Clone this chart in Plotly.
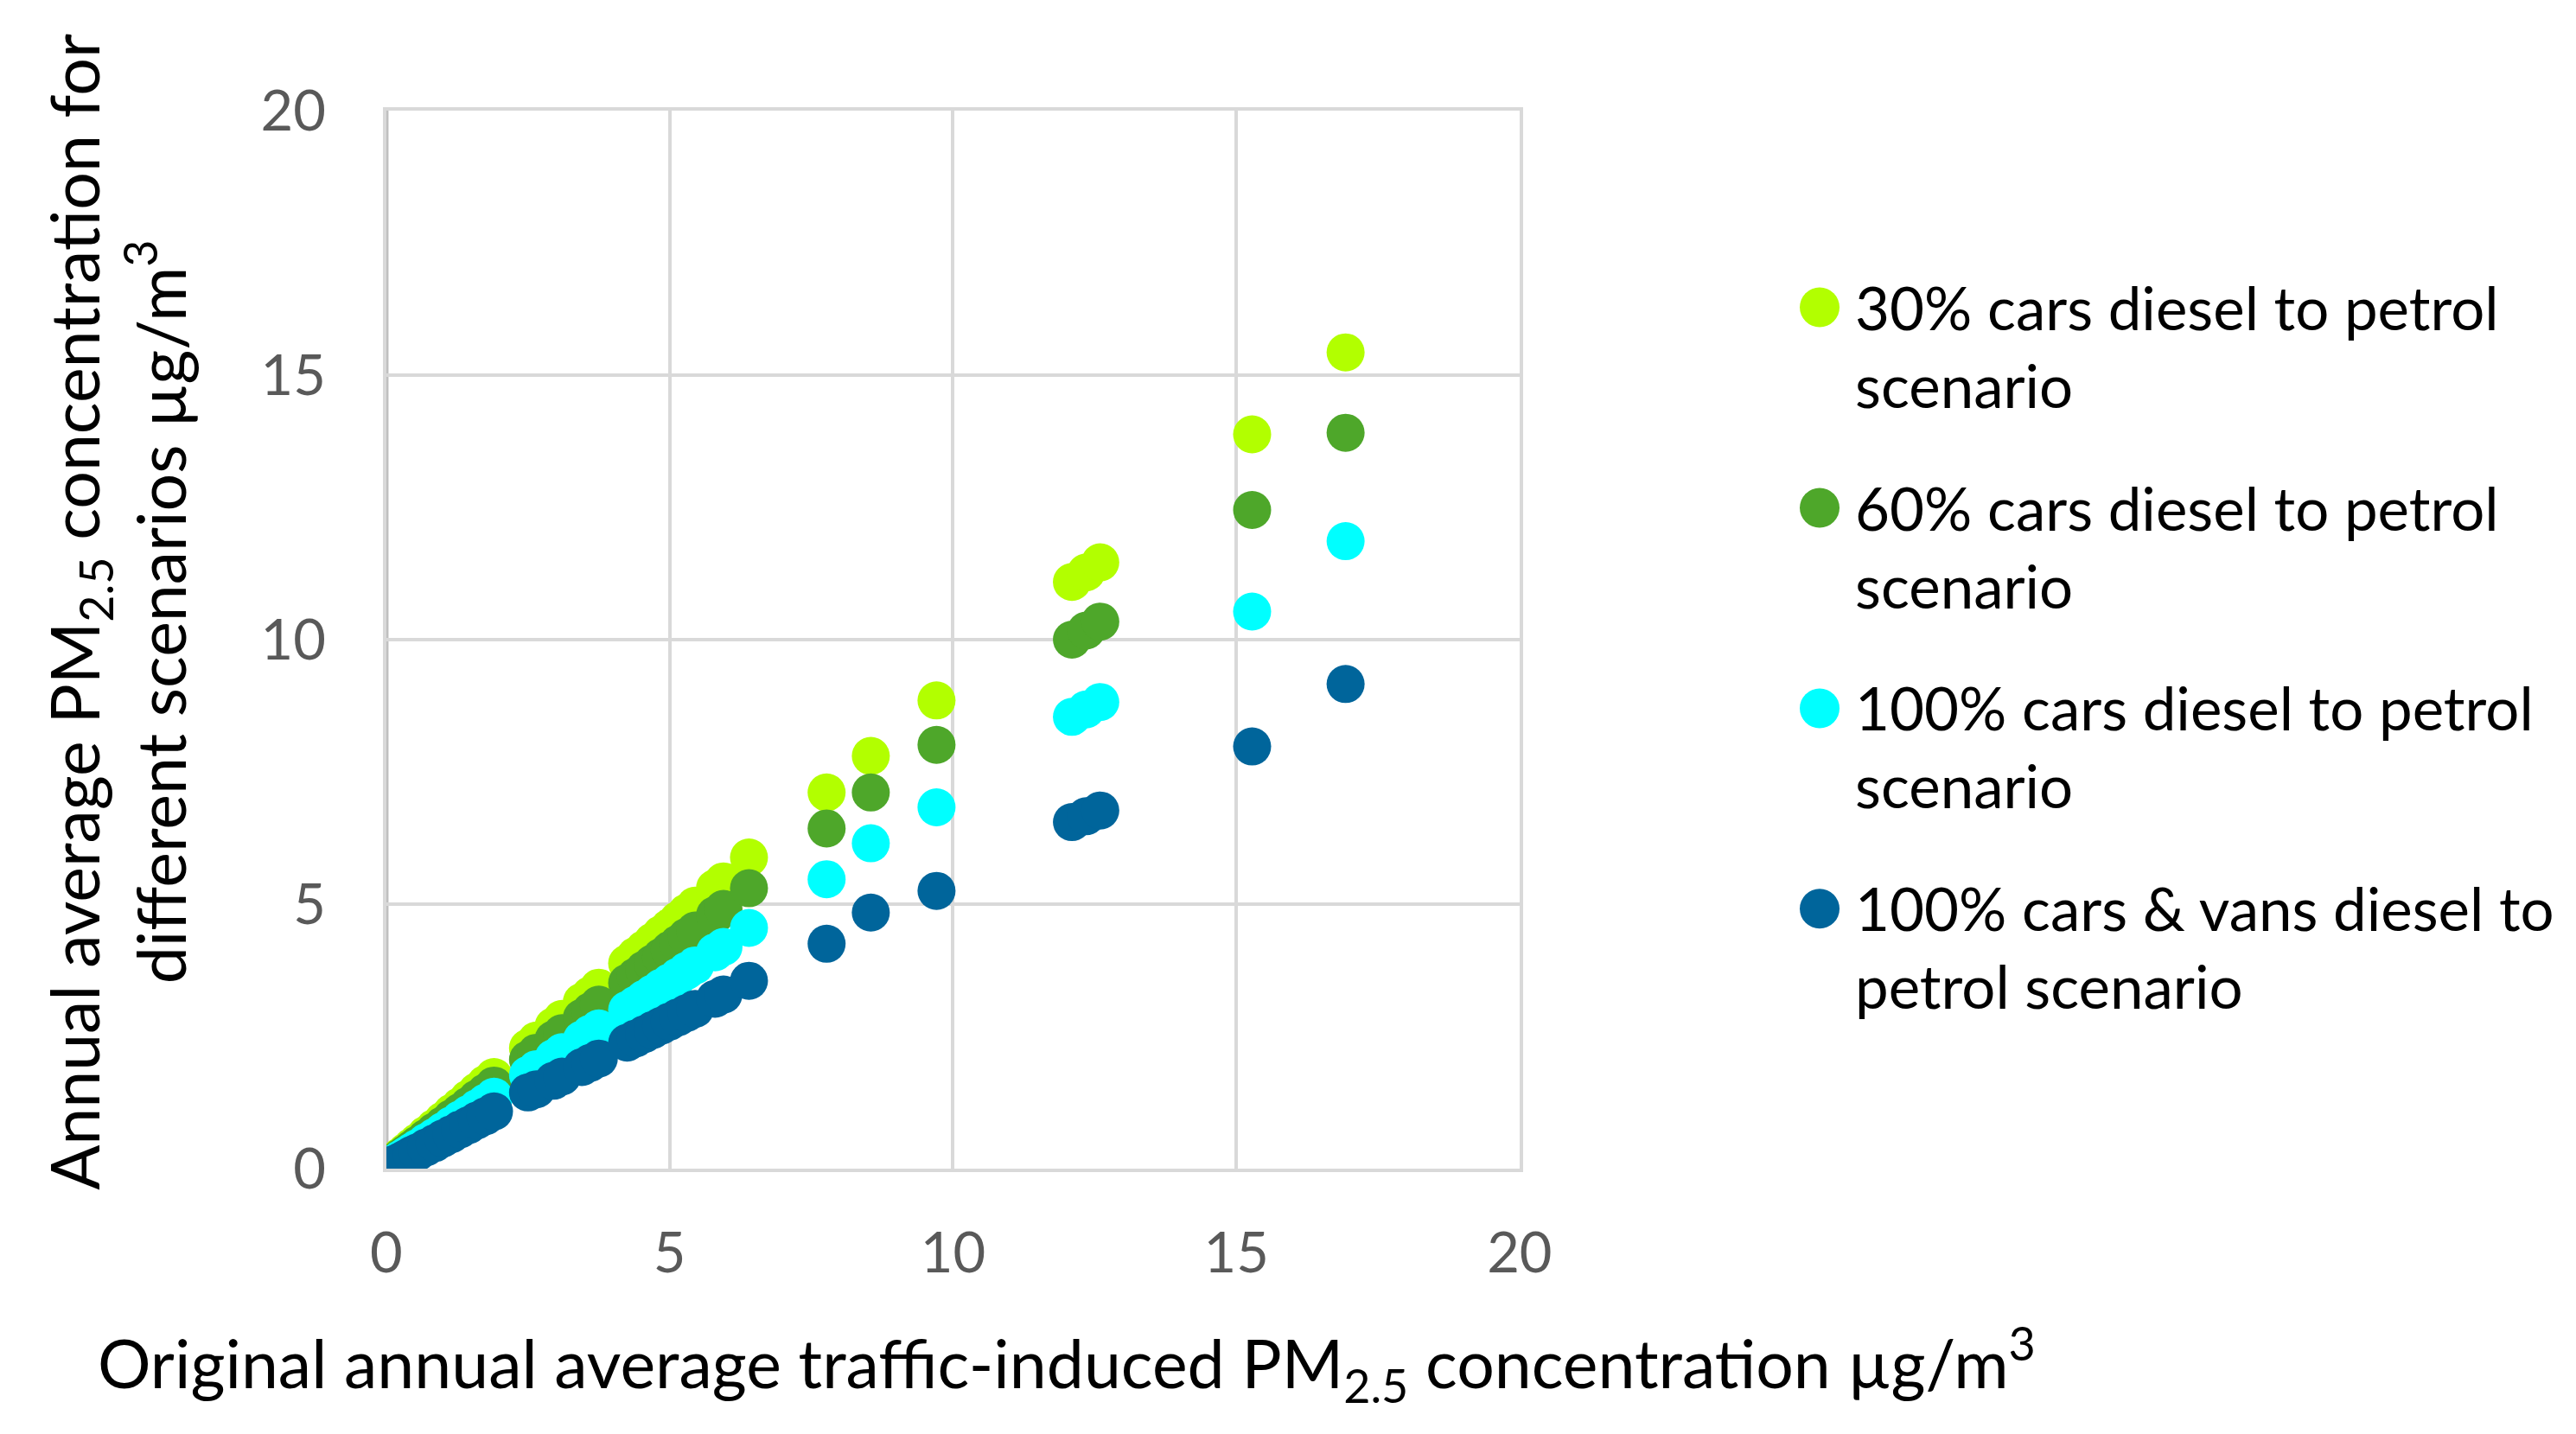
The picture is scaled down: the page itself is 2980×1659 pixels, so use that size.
import plotly.graph_objects as go

# Original traffic-induced PM2.5 (x) and the four scenario values (y)
original = [0.05, 0.15, 0.25, 0.35, 0.45, 0.55, 0.70, 0.85, 1.00, 1.15, 1.30, 1.45,
            1.60, 1.75, 1.90, 2.50, 2.65, 2.95, 3.10, 3.45, 3.60, 3.75, 4.25, 4.40,
            4.55, 4.70, 4.85, 5.00, 5.15, 5.30, 5.45, 5.80, 5.95, 6.40, 7.77, 8.55,
            9.71, 12.10, 12.35, 12.60, 15.28, 16.93]

cars30 = [0.05, 0.14, 0.23, 0.32, 0.41, 0.50, 0.64, 0.77, 0.91, 1.05, 1.18, 1.32,
          1.46, 1.60, 1.73, 2.28, 2.42, 2.69, 2.83, 3.15, 3.28, 3.42, 3.88, 4.02,
          4.15, 4.29, 4.43, 4.56, 4.70, 4.84, 4.97, 5.30, 5.43, 5.88, 7.11, 7.80,
          8.85, 11.09, 11.27, 11.46, 13.88, 15.43]

cars60 = [0.04, 0.12, 0.21, 0.29, 0.37, 0.45, 0.58, 0.70, 0.82, 0.95, 1.07, 1.19,
          1.32, 1.44, 1.57, 2.06, 2.19, 2.44, 2.56, 2.85, 2.97, 3.10, 3.51, 3.63,
          3.76, 3.88, 4.00, 4.13, 4.25, 4.38, 4.50, 4.79, 4.91, 5.30, 6.43, 7.11,
          8.01, 10.00, 10.17, 10.34, 12.45, 13.91]

cars100 = [0.04, 0.11, 0.18, 0.25, 0.32, 0.39, 0.50, 0.60, 0.71, 0.82, 0.93, 1.03,
           1.14, 1.25, 1.36, 1.77, 1.88, 2.09, 2.20, 2.44, 2.55, 2.65, 3.00, 3.10,
           3.21, 3.31, 3.42, 3.52, 3.63, 3.74, 3.84, 4.09, 4.19, 4.55, 5.47, 6.15,
           6.83, 8.54, 8.68, 8.82, 10.53, 11.86]

cars_vans100 = [0.03, 0.09, 0.14, 0.20, 0.26, 0.31, 0.40, 0.48, 0.57, 0.65, 0.74, 0.82,
                0.91, 0.99, 1.08, 1.44, 1.50, 1.66, 1.74, 1.92, 2.00, 2.08, 2.38, 2.46,
                2.54, 2.62, 2.70, 2.78, 2.86, 2.94, 3.02, 3.21, 3.29, 3.55, 4.25, 4.84,
                5.25, 6.55, 6.66, 6.77, 7.98, 9.16]

series = [cars30, cars60, cars100, cars_vans100]
labels = ["30% cars diesel to petrol<br>scenario",
          "60% cars diesel to petrol<br>scenario",
          "100% cars diesel to petrol<br>scenario",
          "100% cars & vans diesel to<br>petrol scenario"]
colors = ["#B2FF00", "#4EA72A", "#00FFFF", "#00659B"]

tick_vals = [0, 5, 10, 15, 20]

FONT = "Lato"
GRID = "#D9D9D9"

fig = go.Figure()
for ys, name, col in zip(series, labels, colors):
    fig.add_trace(go.Scatter(
        x=original, y=ys, mode="markers", name=name,
        marker=dict(size=44, color=col, line=dict(width=0)),
        showlegend=False,
    ))

# darker left axis line (the other three sides are light grid-coloured)
shapes = [dict(type="line", xref="x", yref="y domain", x0=0, x1=0, y0=0, y1=1,
               line=dict(color="#BFBFBF", width=5), layer="below")]
annotations = []

# hand-made legend: big round symbols + two-line text
leg_marker_y = 0.7905
leg_top = 0.8170
leg_step = 0.1398
for i, (name, col) in enumerate(zip(labels, colors)):
    shapes.append(dict(
        type="circle", xref="paper", yref="paper",
        xsizemode="pixel", ysizemode="pixel",
        xanchor=0.7037, yanchor=leg_marker_y - i * leg_step,
        x0=-23, x1=23, y0=-23, y1=23,
        fillcolor=col, line=dict(width=0),
    ))
    annotations.append(dict(
        text=name, xref="paper", yref="paper",
        x=0.7168, y=leg_top - i * leg_step,
        xanchor="left", yanchor="top", align="left",
        showarrow=False, font=dict(family=FONT, size=69, color="#000000"),
    ))

# axis titles
annotations.append(dict(
    text="Annual average PM<sub>2.5</sub> concentration for<br>different scenarios µg/m<sup>3</sup>",
    xref="paper", yref="paper", x=0.0425, y=0.578,
    xanchor="center", yanchor="middle", textangle=-90, align="center",
    showarrow=False, font=dict(family=FONT, size=77, color="#000000"),
))
annotations.append(dict(
    text="Original annual average traffic-induced PM<sub>2.5</sub> concentration µg/m<sup>3</sup>",
    xref="paper", yref="paper", x=0.4113, y=0.0538,
    xanchor="center", yanchor="middle",
    showarrow=False, font=dict(family=FONT, size=77, color="#000000"),
))

fig.update_layout(
    width=2980, height=1659,
    margin=dict(l=0, r=0, t=0, b=0, autoexpand=False),
    paper_bgcolor="white", plot_bgcolor="white",
    font=dict(family=FONT),
    shapes=shapes,
    annotations=annotations,
    xaxis=dict(
        domain=[0.1473, 0.5872], range=[0, 20], automargin=False,
        tickvals=tick_vals, ticktext=[str(v) for v in tick_vals],
        showgrid=True, gridcolor=GRID, gridwidth=4,
        showline=True, mirror=True, linecolor=GRID, linewidth=4,
        zeroline=False,
        ticks="outside", ticklen=38, tickcolor="rgba(0,0,0,0)",
        tickfont=dict(family=FONT, size=65, color="#595959"),
    ),
    yaxis=dict(
        domain=[0.1899, 0.9277], range=[0, 20], automargin=False,
        tickvals=tick_vals, ticktext=[str(v) for v in tick_vals],
        showgrid=True, gridcolor=GRID, gridwidth=4,
        showline=True, mirror=True, linecolor=GRID, linewidth=4,
        zeroline=False,
        ticks="outside", ticklen=53, tickcolor="rgba(0,0,0,0)",
        tickfont=dict(family=FONT, size=65, color="#595959"),
    ),
)

fig.write_html("out.html")
